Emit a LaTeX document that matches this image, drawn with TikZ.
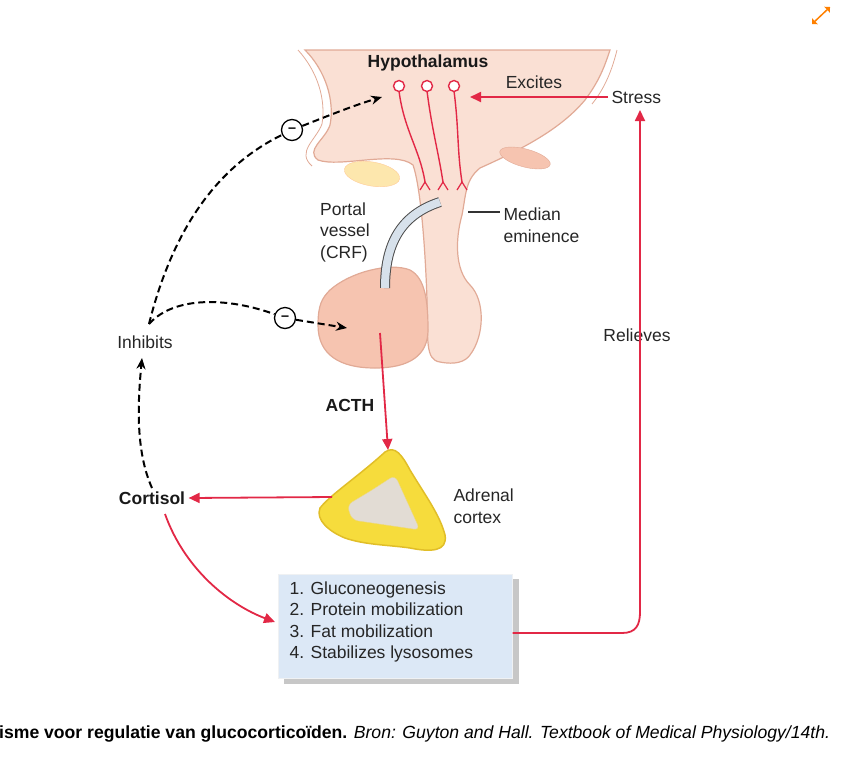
\documentclass[tikz,border=0pt]{standalone}
\usepackage{fontspec}
\setmainfont{Liberation Sans}
\usetikzlibrary{arrows.meta,shapes.geometric}
\begin{document}
\begin{tikzpicture}[x=1pt,y=-1pt,
 lbl/.style={font=\fontsize{17.5}{21.5}\selectfont,text=black!85},
 blbl/.style={font=\fontsize{17.5}{21}\selectfont\bfseries,text=black!90},
 ra/.style={draw=rd,line width=1.8pt,-{Triangle[length=11pt,width=10pt]}},
 fb/.style={draw=black,line width=2pt,dash pattern=on 7pt off 4pt,-{Stealth[length=11pt,width=9pt]}},
 minus/.style={circle,draw=black,fill=white,line width=1.3pt,minimum size=21pt,inner sep=0pt,font=\bfseries\Large}]
\useasboundingbox (0,0) rectangle (850,772);
\definecolor{skin}{RGB}{250,224,212}
\definecolor{skinline}{RGB}{225,170,150}
\definecolor{ant}{RGB}{246,196,176}
\definecolor{rd}{RGB}{226,40,70}
\definecolor{bx}{RGB}{220,232,246}
\definecolor{yel}{RGB}{246,220,60}
\definecolor{yeld}{RGB}{225,190,40}
\definecolor{inner}{RGB}{226,220,212}
\definecolor{tube}{RGB}{215,225,235}
% expand icon
\draw[orange,line width=1.5pt,{Triangle[length=4pt]}-{Triangle[length=4pt]}] (812,24) -- (830,7);
% hypothalamus + stalk + posterior lobe
\path[fill=skin,draw=skinline,line width=1.2pt]
 (305,50) .. controls (325,70) and (335,100) .. (330,125)
 .. controls (325,140) and (305,150) .. (318,160)
 .. controls (340,168) and (395,150) .. (413,165)
 .. controls (420,185) and (425,240) .. (427,300)
 .. controls (428,340) and (425,360) .. (440,362)
 .. controls (455,365) and (465,362) .. (470,355)
 .. controls (485,335) and (485,300) .. (470,285)
 .. controls (455,270) and (455,240) .. (462,215)
 .. controls (466,195) and (465,180) .. (480,168)
 .. controls (520,150) and (560,130) .. (585,100)
 .. controls (600,80) and (605,65) .. (610,50) -- cycle;
\draw[skinline,line width=0.8pt] (298,50) .. controls (318,72) and (326,100) .. (322,124) .. controls (316,140) and (296,152) .. (312,166);
\draw[skinline,line width=0.8pt] (617,50) .. controls (612,70) and (605,88) .. (592,104);
% yellow ellipse & small pink ellipse
\node[ellipse,fill=yellow!45!orange!30,draw=orange!40,minimum width=56pt,minimum height=24pt,inner sep=0,rotate=-10] (ye) at (372,174) {};
\node[ellipse,fill=ant,draw=skinline,minimum width=52pt,minimum height=18pt,inner sep=0,rotate=-15] (pe) at (525,158) {};
% anterior lobe
\path[fill=ant,draw=skinline,line width=1.2pt]
 (330,290) .. controls (350,272) and (390,262) .. (410,270)
 .. controls (425,278) and (428,300) .. (428,330)
 .. controls (428,355) and (410,368) .. (375,368)
 .. controls (340,368) and (318,355) .. (318,325)
 .. controls (318,305) and (322,298) .. (330,290) -- cycle;
% portal vessel
\draw[black!70,line width=10pt] (440,202) .. controls (400,215) and (385,245) .. (385,288);
\draw[tube,line width=8pt] (440,202) .. controls (400,215) and (385,245) .. (385,288);
% neurons
\foreach \x/\e in {399/425,427/443,454/462}{
 \draw[rd,line width=1.4pt] (\x,91) .. controls (\x+5,130) and (\e-5,150) .. (\e,182);
 \draw[rd,line width=1.2pt] (\e-5,190) -- (\e,182) -- (\e+5,190);
 \node[circle,draw=rd,fill=white,line width=1.4pt,minimum size=11pt,inner sep=0] at (\x,86) {};}
% texts
\node[blbl] (hyp) at (428,63) {Hypothalamus};
\node[lbl] (exc) at (534,82) {Excites};
\node[lbl,anchor=west] (str) at (608,97) {Stress};
\node[lbl,align=left] (portal) at (345,232) {Portal\\vessel\\(CRF)};
\node[lbl,align=left,anchor=west] (med) at (500,225) {Median\\eminence};
\coordinate (medA) at (468,212);
\draw[black!80,line width=1.2pt] (medA) -- (500,212);
\node[lbl] (inh) at (145,342) {Inhibits};
\node[lbl] (rel) at (637,335) {Relieves};
\node[blbl] (acth) at (350,405) {ACTH};
\node[blbl] (cort) at (152,498) {Cortisol};
\node[lbl,align=left,anchor=west] (adr) at (450,506) {Adrenal\\cortex};
% adrenal
\path[fill=yel,draw=yeld,line width=1.5pt]
 (385,452) .. controls (395,445) and (402,455) .. (410,470)
 .. controls (425,495) and (440,515) .. (445,535)
 .. controls (448,552) and (430,552) .. (410,548)
 .. controls (390,545) and (365,545) .. (345,538)
 .. controls (330,532) and (315,520) .. (320,508)
 .. controls (330,495) and (360,475) .. (385,452) -- cycle;
\path[fill=inner,draw=yeld!60,rounded corners=6pt] (395,475) -- (420,530) -- (352,520) -- (347,505) -- (372,490) -- cycle;
\coordinate (adrC) at (385,500);
% box
\fill[black!22] (284,579) rectangle (519,684);
\node[fill=bx,draw=bx!80!black!20,minimum width=234pt,minimum height=104pt,inner sep=0] (box) at (395.5,626) {};
\node[lbl,align=left,anchor=north west] at (286,578) {1. Gluconeogenesis\\2. Protein mobilization\\3. Fat mobilization\\4. Stabilizes lysosomes};
% red arrows
\draw[ra] (str.west) -- (470,97);
\draw[ra] (380,333) -- (388,450);
\draw[ra] (332,497) -- (cort.east);
\draw[ra] (165,514) .. controls (185,570) and (230,605) .. (275,622);
\draw[ra] (box.east |- 0,633) -- (622,633) .. controls (636,633) and (640,625) .. (640,612) -- (640,110);
% dashed feedback
\coordinate (inhT) at (149,324);
\draw[fb] (cort.north) .. controls (135,450) and (138,400) .. (142,358);
\node[minus] (m1) at (292,130) {--};
\node[minus] (m2) at (285,318) {--};
\draw[fb,-] (inhT) .. controls (170,240) and (210,170) .. (m1);
\draw[fb] (m1) .. controls (330,115) and (355,105) .. (382,97);
\draw[fb,-] (inhT) .. controls (175,295) and (230,298) .. (m2);
\draw[fb] (m2) -- (347,328);
% caption
\node[anchor=west,font=\fontsize{17.6}{20}\selectfont,inner sep=0] (cap) at (-1,734) {\textbf{isme voor regulatie van glucocorticoïden.} \textit{Bron: Guyton and Hall. Textbook of Medical Physiology/14th.}};
\end{tikzpicture}
\end{document}
